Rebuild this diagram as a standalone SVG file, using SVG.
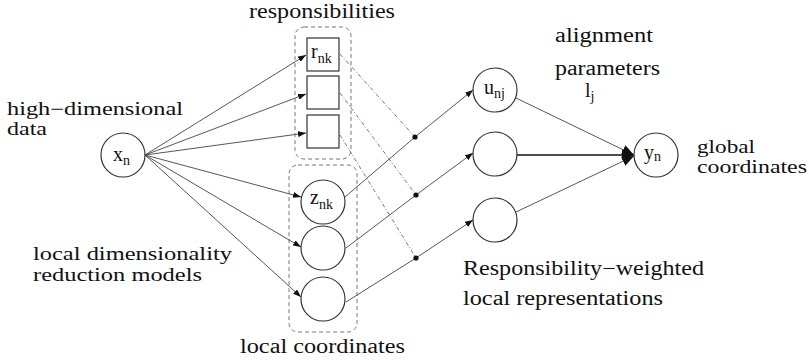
<svg xmlns="http://www.w3.org/2000/svg" width="809" height="360" viewBox="0 0 809 360">
<defs>
<style>
.t{font-family:'Liberation Serif','DejaVu Serif',serif;font-size:20px;fill:#111}
.l{font-size:18px}
.s{font-size:14px}
.node{fill:#fff;stroke:#333;stroke-width:1.2}
.box{fill:none;stroke:#777;stroke-width:1;stroke-dasharray:4 3}
.e{fill:none;stroke:#444;stroke-width:0.9}
.dd{fill:none;stroke:#555;stroke-width:0.8;stroke-dasharray:4 2 1 2}
</style>
<marker id="a" markerWidth="8" markerHeight="6" refX="8" refY="3" orient="auto" markerUnits="userSpaceOnUse"><path d="M0,0 L8,3 L0,6 Z" fill="#111"/></marker>
<marker id="b" markerWidth="12" markerHeight="10" refX="12" refY="5" orient="auto" markerUnits="userSpaceOnUse"><path d="M0,0 L12,5 L0,10 Z" fill="#111"/></marker>
</defs>
<rect width="809" height="360" fill="#fff"/>
<g id="groups">
<rect class="box" x="295" y="27" width="56" height="132" rx="9"/>
<rect class="box" x="289" y="165" width="68" height="167" rx="9"/>
</g>
<g id="connectors">
<line class="e" x1="145" y1="155" x2="306" y2="55" marker-end="url(#a)"/>
<line class="e" x1="145" y1="155" x2="306" y2="94" marker-end="url(#a)"/>
<line class="e" x1="145" y1="155" x2="306" y2="133" marker-end="url(#a)"/>
<line class="e" x1="145" y1="155" x2="301" y2="197" marker-end="url(#a)"/>
<line class="e" x1="145" y1="155" x2="301" y2="247" marker-end="url(#a)"/>
<line class="e" x1="145" y1="155" x2="301" y2="297" marker-end="url(#a)"/>
<line class="dd" x1="340" y1="54" x2="415" y2="137"/>
<line class="dd" x1="340" y1="93" x2="416" y2="195"/>
<line class="dd" x1="340" y1="135" x2="416" y2="258"/>
<polyline class="e" points="345,197 415,137 473,90" marker-end="url(#a)"/>
<polyline class="e" points="346,248 416,195 473,153" marker-end="url(#a)"/>
<polyline class="e" points="346,302 416,258 473,220" marker-end="url(#a)"/>
<circle cx="415" cy="137" r="2.6" fill="#111"/>
<circle cx="416" cy="195" r="2.6" fill="#111"/>
<circle cx="416" cy="258" r="2.6" fill="#111"/>
<line class="e" x1="516" y1="98" x2="634" y2="155" marker-end="url(#b)"/>
<line x1="517" y1="155" x2="634" y2="155" stroke="#111" stroke-width="1.4" marker-end="url(#b)"/>
<line class="e" x1="516" y1="212" x2="634" y2="156" marker-end="url(#b)"/>
</g>
<g font-family="Liberation Serif, DejaVu Serif, serif">
<g id="xn"><circle class="node" cx="123" cy="155" r="22"/><text class="t" x="113" y="161">x<tspan class="s" dy="4">n</tspan></text></g>
<g id="r1"><rect class="node" x="307" y="38" width="32" height="33"/><text class="t" x="311" y="58">r<tspan class="s" dy="5">nk</tspan></text></g>
<g id="r2"><rect class="node" x="307" y="76" width="32" height="33"/></g>
<g id="r3"><rect class="node" x="307" y="115" width="32" height="33"/></g>
<g id="z1"><circle class="node" cx="323" cy="202" r="22"/><text class="t" x="310" y="204">z<tspan class="s" dy="5">nk</tspan></text></g>
<g id="z2"><circle class="node" cx="323" cy="248" r="22"/></g>
<g id="z3"><circle class="node" cx="323" cy="299" r="22"/></g>
<g id="u1"><circle class="node" cx="495" cy="90" r="22"/><text class="t" x="484" y="94">u<tspan class="s" dy="4">nj</tspan></text></g>
<g id="u2"><circle class="node" cx="495" cy="154" r="22"/></g>
<g id="u3"><circle class="node" cx="495" cy="220" r="22"/></g>
<g id="yn"><circle class="node" cx="656" cy="155" r="22"/><text class="t" x="644" y="159">y<tspan class="s" dy="2">n</tspan></text></g>
<g id="labels">
<text class="t" x="249" y="18" textLength="146" lengthAdjust="spacingAndGlyphs">responsibilities</text>
<text class="t l" x="7" y="115" textLength="176" lengthAdjust="spacingAndGlyphs">high−dimensional</text>
<text class="t l" x="7" y="135" textLength="40" lengthAdjust="spacingAndGlyphs">data</text>
<text class="t l" x="33" y="260" textLength="199" lengthAdjust="spacingAndGlyphs">local dimensionality</text>
<text class="t l" x="33" y="281" textLength="169" lengthAdjust="spacingAndGlyphs">reduction models</text>
<text class="t" x="240" y="353" textLength="165" lengthAdjust="spacingAndGlyphs">local coordinates</text>
<text class="t" x="555" y="42" textLength="98" lengthAdjust="spacingAndGlyphs">alignment</text>
<text class="t" x="555" y="75" textLength="105" lengthAdjust="spacingAndGlyphs">parameters</text>
<text class="t" x="585" y="97">l<tspan class="s" dy="4">j</tspan></text>
<text class="t" x="463" y="275" textLength="241" lengthAdjust="spacingAndGlyphs">Responsibility−weighted</text>
<text class="t" x="463" y="305" textLength="200" lengthAdjust="spacingAndGlyphs">local representations</text>
<text class="t l" x="697" y="153" textLength="58" lengthAdjust="spacingAndGlyphs">global</text>
<text class="t l" x="697" y="173" textLength="110" lengthAdjust="spacingAndGlyphs">coordinates</text>
</g>
</g>
</svg>
